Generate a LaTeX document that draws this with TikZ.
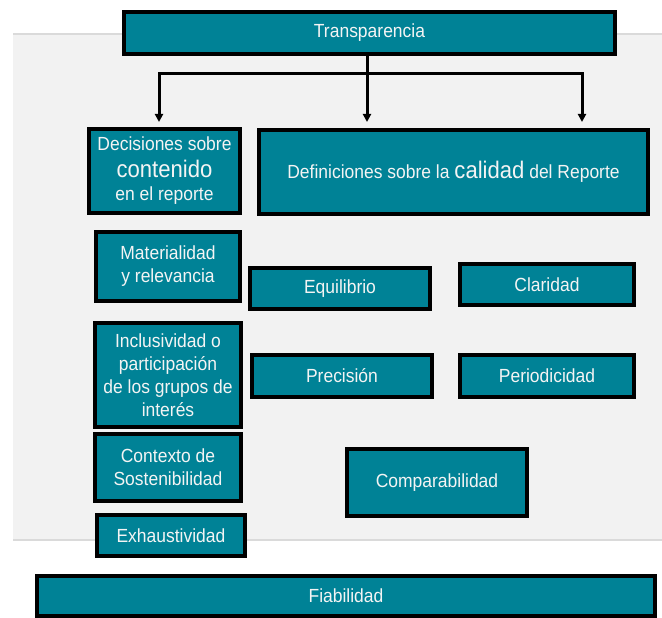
\documentclass[tikz,border=0pt]{standalone}
\usepackage{fontspec}
\setmainfont{Liberation Sans}[FakeStretch=0.92]
\usetikzlibrary{arrows.meta,positioning}
\definecolor{griteal}{HTML}{008296}
\definecolor{gripanel}{HTML}{F2F2F2}
\definecolor{griedge}{HTML}{DADADA}
\definecolor{gritext}{HTML}{F4F4F4}
\newcommand{\bigword}[1]{{\fontsize{24}{27}\selectfont #1}}

\begin{document}
\begin{tikzpicture}[
    x=1pt,y=-1pt,
    font=\fontsize{19}{23}\selectfont,
    box/.style={draw=black,line width=3.5pt,fill=griteal,text=gritext,align=center,inner sep=0pt,minimum width=#1},
    box/.default=146pt,
    arr/.style={-{Triangle[length=8pt,width=8pt]},line width=3pt},
    link/.style={line width=3pt}
  ]
    \useasboundingbox (0,0) rectangle (662,618);
    % background panel
    \fill[gripanel] (13,34) rectangle (662,540);
    \draw[griedge,line width=1.5pt] (13,34) -- (662,34);
    \draw[griedge,line width=2pt] (13,540) -- (662,540);

    \node[box=491pt,minimum height=42pt] (transp) at (369.5,33) {Transparencia};
    \node[box=151pt,minimum height=84pt] (decis) at (164.5,171) {Decisiones sobre\\[4pt]\bigword{contenido}\\en el reporte};
    \node[box=389pt,minimum height=84pt] (defin) at (453.5,172) {Definiciones sobre la \bigword{calidad} del Reporte};

    \node[box=144pt,minimum height=69pt] (mater) at (168,266.5) {Materialidad\\y relevancia};
    \node[box=146pt,minimum height=104pt] (inclus) at (168,375) {Inclusividad o\\participación\\de los grupos de\\interés};
    \node[box=146pt,minimum height=67pt] (context) at (168,467.5) {Contexto de\\Sostenibilidad};
    \node[box=148pt,minimum height=41pt] (exhaus) at (171,535.5) {Exhaustividad};

    \node[box=180pt,minimum height=41pt] (equil) at (340,288.5) {Equilibrio};
    \node[box=174pt,minimum height=41pt] (clar) at (547,284.5) {Claridad};
    \node[box=180pt,minimum height=42pt] (prec) at (342,376) {Precisión};
    \node[box=174pt,minimum height=42pt] (period) at (547,376) {Periodicidad};
    \node[box=180pt,minimum height=67pt] (compar) at (437,482.5) {Comparabilidad};

    \node[box=618pt,minimum height=40pt] (fiab) at (346,596) {Fiabilidad};

    % split from the top box
    \coordinate (hub) at (367,74);
    \coordinate (tipL) at (159,122);
    \coordinate (tipM) at (367,122);
    \coordinate (tipR) at (582,122);
    \draw[link] (transp.south -| hub) -- (hub);
    \draw[arr] (hub) -| (tipL);
    \draw[arr] (hub) -- (tipM);
    \draw[arr] (hub) -| (tipR);
  \end{tikzpicture}
\end{document}
